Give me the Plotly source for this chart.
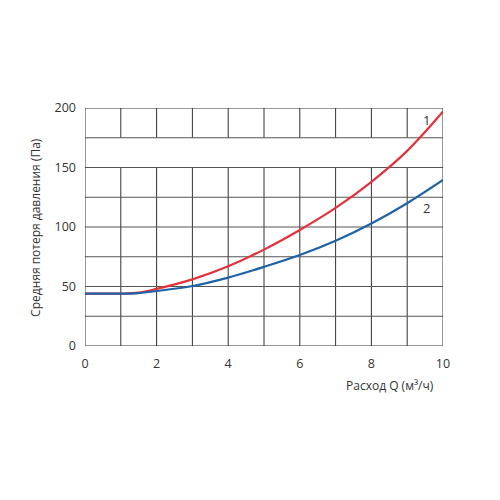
import plotly.graph_objects as go

# Data
q = [0, 0.5, 1.0, 1.5, 2, 3, 4, 5, 6, 7, 8, 9, 10]
loss_1 = [44, 44, 44, 44.8, 48, 56, 67, 81, 97.5, 116, 138, 164, 197]
loss_2 = [44, 44, 44, 44.5, 46.2, 50.4, 57.5, 66.5, 76.5, 88.5, 103, 120, 139.5]
x_ticks = [0, 2, 4, 6, 8, 10]
y_ticks = [0, 50, 100, 150, 200]
x_grid = [1, 2, 3, 4, 5, 6, 7, 8, 9]
y_grid = [25, 50, 75, 100, 125, 150, 175]
gap_band = [150, 175]  # vertical grid lines are interrupted in this band
labels = ["1", "2"]
label_pos = [(9.55, 190), (9.55, 116)]

FONT = "Open Sans"
TXT = "#333333"

fig = go.Figure()
fig.add_trace(go.Scatter(x=q, y=loss_1, mode="lines", line=dict(color="#e2323c", width=2.2, shape="spline", smoothing=1.0), hoverinfo="skip"))
fig.add_trace(go.Scatter(x=q, y=loss_2, mode="lines", line=dict(color="#1f62a6", width=2.2, shape="spline", smoothing=1.0), hoverinfo="skip"))

shapes = []
for gx in x_grid:
    shapes.append(dict(type="line", xref="x", yref="y", x0=gx, x1=gx, y0=0, y1=gap_band[0], line=dict(color="#333333", width=1), layer="below"))
    shapes.append(dict(type="line", xref="x", yref="y", x0=gx, x1=gx, y0=gap_band[1], y1=200, line=dict(color="#333333", width=1), layer="below"))
for gy in y_grid:
    shapes.append(dict(type="line", xref="x", yref="y", x0=0, x1=10, y0=gy, y1=gy, line=dict(color="#555555", width=1), layer="below"))
shapes.append(dict(type="rect", xref="x", yref="y", x0=0, x1=10, y0=0, y1=200, line=dict(color="#333333", width=1), layer="below"))

annotations = []
for t, (lx, ly) in zip(labels, label_pos):
    annotations.append(dict(x=lx, y=ly, xref="x", yref="y", text=t, showarrow=False, font=dict(family=FONT, size=13, color=TXT)))
annotations.append(dict(x=-0.14, y=0.5, xref="paper", yref="paper", text="Средняя потеря давления (Па)", textangle=-90, showarrow=False, xanchor="center", yanchor="middle", font=dict(family=FONT, size=12, color=TXT)))
annotations.append(dict(x=0.852, y=-0.165, xref="paper", yref="paper", text="Расход Q (м³/ч)", showarrow=False, xanchor="center", yanchor="middle", font=dict(family=FONT, size=12, color=TXT)))

fig.update_layout(
    width=500, height=500,
    margin=dict(l=77, r=65, t=100, b=162, pad=0),
    paper_bgcolor="white", plot_bgcolor="white",
    showlegend=False,
    shapes=shapes, annotations=annotations,
    xaxis=dict(range=[0, 10], tickvals=x_ticks, showgrid=False, zeroline=False, showline=False, ticks="", ticklabelstandoff=8,
               tickfont=dict(family=FONT, size=12.5, color=TXT)),
    yaxis=dict(range=[0, 200], tickvals=y_ticks, showgrid=False, zeroline=False, showline=False, ticks="", ticklabelstandoff=8,
               tickfont=dict(family=FONT, size=12.5, color=TXT)),
)
fig.write_html("out.html")
